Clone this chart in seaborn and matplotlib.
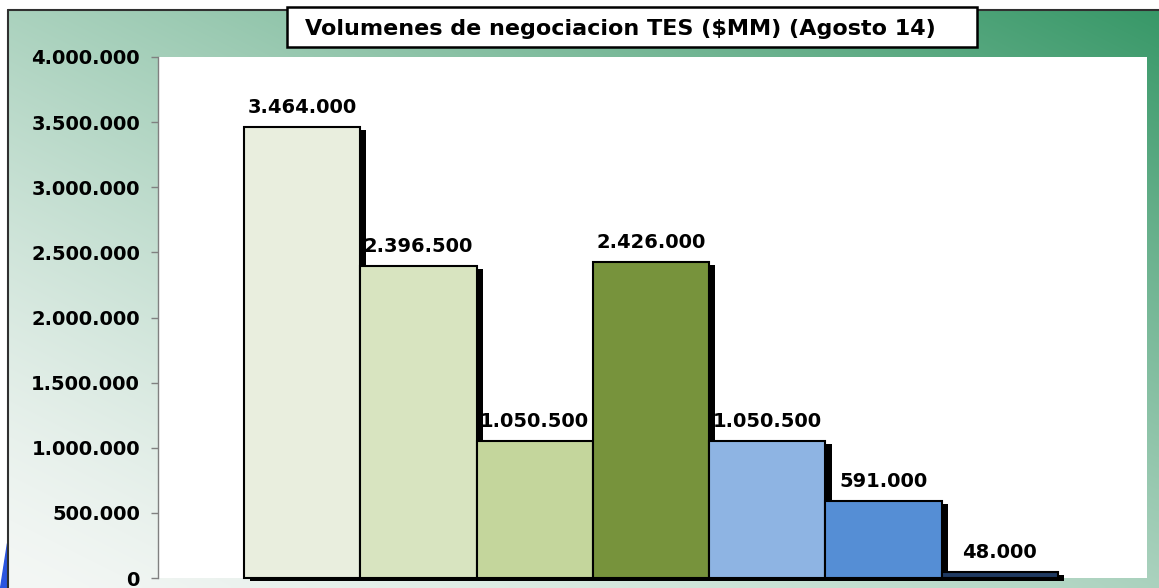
import numpy as np
import pandas as pd
import matplotlib
matplotlib.use("Agg")
import matplotlib.pyplot as plt
import matplotlib.patheffects as pe
from matplotlib.patches import Rectangle, Polygon
from matplotlib.ticker import FuncFormatter
import seaborn as sns

# data
categories = ["TES 1", "TES 2", "TES 3", "TES 4", "TES 5", "TES 6", "TES 7"]
volumes = [3464000, 2396500, 1050500, 2426000, 1050500, 591000, 48000]
bar_colors = ["#E9EEDE", "#D8E4C0", "#C4D69C", "#77933C", "#8EB4E3", "#558ED5", "#1F3A62"]
title = "Volumenes de negociacion TES ($MM) (Agosto 14)"

df = pd.DataFrame({"bono": categories, "volumen": volumes})

W, H = 1159, 588
sns.set_style("white")
plt.rcParams["font.family"] = ["DejaVu Sans"]
plt.rcParams["text.color"] = "black"
plt.rcParams["ytick.labelcolor"] = "black"
fig = plt.figure(figsize=(W / 100, H / 100), dpi=100)

# background gradient (slide style)
bg = fig.add_axes([0, 0, 1, 1], zorder=0)
xx, yy = np.meshgrid(np.linspace(0, 1, 300), np.linspace(0, 1, 160))
t = ((xx + (1 - yy)) / 2) ** 1.35
light = np.array([244, 247, 245]) / 255
dark = np.array([56, 152, 104]) / 255
img = light + t[..., None] * (dark - light)
bg.imshow(img, extent=[8, W, H, 10], aspect="auto", interpolation="bilinear")
bg.set_xlim(0, W)
bg.set_ylim(H, 0)
bg.plot([8, W], [10, 10], color="#303030", lw=1.5)
bg.plot([8, 8], [10, H], color="#303030", lw=1.5)
bg.add_patch(Polygon([[7, 543], [7, H], [0, H]], color="#2B55E0"))
bg.axis("off")

# title box
bg.add_patch(Rectangle((287, 7), 690, 40, facecolor="white", edgecolor="black", lw=1.8, zorder=5))
bg.text(620, 29, title, ha="center", va="center", fontsize=16, fontweight="bold", zorder=6)

# main chart
ax = fig.add_axes([158 / W, 1 - 578 / H, (1147 - 158) / W, (578 - 57) / H], zorder=1)
sns.barplot(data=df, x="bono", y="volumen", hue="bono", palette=bar_colors, saturation=1,
            width=1.0, edgecolor="black", linewidth=1.5, legend=False, ax=ax)

# black drop shadow, like the original chart
shadow = [pe.SimplePatchShadow(offset=(4.5, -2.2), shadow_rgbFace="black", alpha=1.0), pe.Normal()]
for bar in ax.patches:
    bar.set_path_effects(shadow)
    bar.set_clip_on(False)

for i, v in enumerate(volumes):
    ax.annotate(f"{v:,}".replace(",", "."), (i, v), xytext=(0, 10), textcoords="offset points",
                ha="center", va="baseline", fontsize=14, fontweight="bold", color="black")

ax.set_xlim(-1.239, 7.265)
ax.set_ylim(0, 4000000)
ax.set_yticks(np.arange(0, 4000001, 500000))
ax.yaxis.set_major_formatter(FuncFormatter(lambda v, p: f"{int(v):,}".replace(",", ".")))
ax.tick_params(axis="y", left=True, length=5, width=1, color="#808080", labelsize=14,
               labelcolor="black", pad=8)
for lab in ax.get_yticklabels():
    lab.set_fontweight("bold")
ax.set_xticks([])
ax.set_xlabel("")
ax.set_ylabel("")
for s in ["top", "right", "bottom"]:
    ax.spines[s].set_visible(False)
ax.spines["left"].set_color("#808080")
ax.spines["left"].set_linewidth(1)
ax.set_facecolor("white")

fig.savefig("out.png", dpi=100)
